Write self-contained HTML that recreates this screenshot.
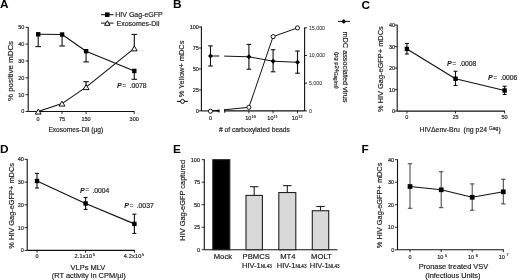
<!DOCTYPE html>
<html><head><meta charset="utf-8"><style>
html,body{margin:0;padding:0;background:#fff;width:520px;height:280px;overflow:hidden;}
svg{display:block;filter:blur(0.3px);}
text{font-family:"Liberation Sans", sans-serif;stroke:#222;stroke-width:0.18px;}
</style></head><body>
<svg width="520" height="280" viewBox="0 0 520 280">
<rect width="520" height="280" fill="#fff"/>
<text x="0.00" y="8.00" font-size="11.8" font-weight="bold" fill="#000" style="stroke-width:0">A</text>
<text x="173.00" y="8.00" font-size="11.8" font-weight="bold" fill="#000" style="stroke-width:0">B</text>
<text x="361.50" y="8.90" font-size="11.8" font-weight="bold" fill="#000" style="stroke-width:0">C</text>
<text x="0.10" y="152.90" font-size="11.8" font-weight="bold" fill="#000" style="stroke-width:0">D</text>
<text x="172.90" y="153.00" font-size="11.8" font-weight="bold" fill="#000" style="stroke-width:0">E</text>
<text x="361.50" y="153.00" font-size="11.8" font-weight="bold" fill="#000" style="stroke-width:0">F</text>
<line x1="28.20" y1="26.90" x2="28.20" y2="111.50" stroke="#111" stroke-width="1.1"/>
<line x1="28.20" y1="111.50" x2="134.40" y2="111.50" stroke="#111" stroke-width="1.1"/>
<line x1="25.60" y1="111.50" x2="28.20" y2="111.50" stroke="#111" stroke-width="0.9"/>
<text x="24.40" y="113.48" font-size="5.5" text-anchor="end" fill="#222">0</text>
<line x1="25.60" y1="94.66" x2="28.20" y2="94.66" stroke="#111" stroke-width="0.9"/>
<text x="24.40" y="96.64" font-size="5.5" text-anchor="end" fill="#222">10</text>
<line x1="25.60" y1="77.82" x2="28.20" y2="77.82" stroke="#111" stroke-width="0.9"/>
<text x="24.40" y="79.80" font-size="5.5" text-anchor="end" fill="#222">20</text>
<line x1="25.60" y1="60.98" x2="28.20" y2="60.98" stroke="#111" stroke-width="0.9"/>
<text x="24.40" y="62.96" font-size="5.5" text-anchor="end" fill="#222">30</text>
<line x1="25.60" y1="44.14" x2="28.20" y2="44.14" stroke="#111" stroke-width="0.9"/>
<text x="24.40" y="46.12" font-size="5.5" text-anchor="end" fill="#222">40</text>
<line x1="25.60" y1="27.30" x2="28.20" y2="27.30" stroke="#111" stroke-width="0.9"/>
<text x="24.40" y="29.28" font-size="5.5" text-anchor="end" fill="#222">50</text>
<line x1="38.10" y1="111.50" x2="38.10" y2="113.90" stroke="#111" stroke-width="0.9"/>
<line x1="62.00" y1="111.50" x2="62.00" y2="113.90" stroke="#111" stroke-width="0.9"/>
<line x1="86.10" y1="111.50" x2="86.10" y2="113.90" stroke="#111" stroke-width="0.9"/>
<line x1="134.20" y1="111.50" x2="134.20" y2="113.90" stroke="#111" stroke-width="0.9"/>
<text x="38.10" y="120.78" font-size="5.5" text-anchor="middle" fill="#222">0</text>
<text x="62.00" y="120.78" font-size="5.5" text-anchor="middle" fill="#222">75</text>
<text x="86.10" y="120.78" font-size="5.5" text-anchor="middle" fill="#222">150</text>
<text x="134.20" y="120.78" font-size="5.5" text-anchor="middle" fill="#222">300</text>
<text x="75.80" y="131.70" font-size="6.6" text-anchor="middle" fill="#222">Exosomes-DiI (µg)</text>
<text x="13.40" y="71.00" font-size="7.9" text-anchor="middle" transform="rotate(-90 13.40 71.00)" fill="#222">% positive mDCs</text>
<polyline points="38.20,34.30 62.10,34.50 86.10,51.20 134.30,70.90" fill="none" stroke="#111" stroke-width="1.1" stroke-linejoin="round"/>
<polyline points="38.20,111.60 62.00,103.60 86.10,87.10 134.30,48.40" fill="none" stroke="#111" stroke-width="1.1" stroke-linejoin="round"/>
<line x1="38.20" y1="34.30" x2="38.20" y2="46.60" stroke="#111" stroke-width="1.1"/>
<line x1="35.40" y1="46.60" x2="41.00" y2="46.60" stroke="#111" stroke-width="1.1"/>
<line x1="62.10" y1="34.50" x2="62.10" y2="46.00" stroke="#111" stroke-width="1.1"/>
<line x1="59.30" y1="46.00" x2="64.90" y2="46.00" stroke="#111" stroke-width="1.1"/>
<line x1="86.10" y1="51.20" x2="86.10" y2="61.90" stroke="#111" stroke-width="1.1"/>
<line x1="83.30" y1="61.90" x2="88.90" y2="61.90" stroke="#111" stroke-width="1.1"/>
<line x1="134.30" y1="70.90" x2="134.30" y2="79.30" stroke="#111" stroke-width="1.1"/>
<line x1="131.50" y1="79.30" x2="137.10" y2="79.30" stroke="#111" stroke-width="1.1"/>
<line x1="86.10" y1="87.10" x2="86.10" y2="81.70" stroke="#111" stroke-width="1.1"/>
<line x1="83.30" y1="81.70" x2="88.90" y2="81.70" stroke="#111" stroke-width="1.1"/>
<line x1="134.30" y1="48.40" x2="134.30" y2="34.40" stroke="#111" stroke-width="1.1"/>
<line x1="131.50" y1="34.40" x2="137.10" y2="34.40" stroke="#111" stroke-width="1.1"/>
<rect x="36.00" y="32.10" width="4.4" height="4.4" fill="#000"/>
<rect x="59.90" y="32.30" width="4.4" height="4.4" fill="#000"/>
<rect x="83.90" y="49.00" width="4.4" height="4.4" fill="#000"/>
<rect x="132.10" y="68.70" width="4.4" height="4.4" fill="#000"/>
<polygon points="38.20,109.11 41.10,114.09 35.30,114.09" fill="#fff" stroke="#111" stroke-width="1.0"/>
<polygon points="62.00,101.11 64.90,106.09 59.10,106.09" fill="#fff" stroke="#111" stroke-width="1.0"/>
<polygon points="86.10,84.61 89.00,89.59 83.20,89.59" fill="#fff" stroke="#111" stroke-width="1.0"/>
<polygon points="134.30,45.91 137.20,50.89 131.40,50.89" fill="#fff" stroke="#111" stroke-width="1.0"/>
<line x1="101.00" y1="14.70" x2="113.60" y2="14.70" stroke="#111" stroke-width="1.0"/>
<rect x="105.05" y="12.45" width="4.5" height="4.5" fill="#000"/>
<text x="115.30" y="17.30" font-size="7.0" fill="#222">HIV Gag-eGFP</text>
<line x1="101.00" y1="23.10" x2="113.60" y2="23.10" stroke="#111" stroke-width="1.0"/>
<polygon points="107.30,20.68 110.00,25.32 104.60,25.32" fill="#fff" stroke="#111" stroke-width="1.0"/>
<text x="116.60" y="25.60" font-size="6.95" fill="#222">Exosomes-DiI</text>
<text x="117.10" y="87.90" font-size="7.0" font-weight="bold" font-style="italic" fill="#222" style="stroke-width:0.05px">P</text>
<text x="122.60" y="87.80" font-size="6.3" fill="#222">=</text>
<text x="129.50" y="87.90" font-size="6.8" fill="#222">.0078</text>
<line x1="201.40" y1="26.60" x2="201.40" y2="110.90" stroke="#111" stroke-width="1.1"/>
<line x1="198.80" y1="110.90" x2="201.40" y2="110.90" stroke="#111" stroke-width="0.9"/>
<text x="198.90" y="112.88" font-size="5.5" text-anchor="end" fill="#222">0</text>
<line x1="198.80" y1="89.93" x2="201.40" y2="89.93" stroke="#111" stroke-width="0.9"/>
<text x="198.90" y="91.91" font-size="5.5" text-anchor="end" fill="#222">25</text>
<line x1="198.80" y1="68.95" x2="201.40" y2="68.95" stroke="#111" stroke-width="0.9"/>
<text x="198.90" y="70.93" font-size="5.5" text-anchor="end" fill="#222">50</text>
<line x1="198.80" y1="47.98" x2="201.40" y2="47.98" stroke="#111" stroke-width="0.9"/>
<text x="198.90" y="49.96" font-size="5.5" text-anchor="end" fill="#222">75</text>
<line x1="198.80" y1="27.00" x2="201.40" y2="27.00" stroke="#111" stroke-width="0.9"/>
<text x="198.90" y="28.98" font-size="5.5" text-anchor="end" fill="#222">100</text>
<line x1="201.40" y1="110.90" x2="219.30" y2="110.90" stroke="#111" stroke-width="1.1"/>
<line x1="224.20" y1="110.90" x2="304.60" y2="110.90" stroke="#111" stroke-width="1.1"/>
<line x1="304.60" y1="27.40" x2="304.60" y2="110.90" stroke="#111" stroke-width="1.1"/>
<line x1="304.60" y1="110.90" x2="307.00" y2="110.90" stroke="#111" stroke-width="0.9"/>
<text x="308.90" y="112.77" font-size="5.2" fill="#222" style="stroke-width:0.02px" letter-spacing="0.05">0</text>
<line x1="304.60" y1="83.20" x2="307.00" y2="83.20" stroke="#111" stroke-width="0.9"/>
<text x="308.90" y="85.07" font-size="5.2" fill="#222" style="stroke-width:0.02px" letter-spacing="0.05">5,000</text>
<line x1="304.60" y1="55.50" x2="307.00" y2="55.50" stroke="#111" stroke-width="0.9"/>
<text x="308.90" y="57.37" font-size="5.2" fill="#222" style="stroke-width:0.02px" letter-spacing="0.05">10,000</text>
<line x1="304.60" y1="27.80" x2="307.00" y2="27.80" stroke="#111" stroke-width="0.9"/>
<text x="308.90" y="29.67" font-size="5.2" fill="#222" style="stroke-width:0.02px" letter-spacing="0.05">15,000</text>
<line x1="210.50" y1="110.90" x2="210.50" y2="113.30" stroke="#111" stroke-width="0.9"/>
<line x1="248.90" y1="110.90" x2="248.90" y2="113.30" stroke="#111" stroke-width="0.9"/>
<line x1="273.10" y1="110.90" x2="273.10" y2="113.30" stroke="#111" stroke-width="0.9"/>
<line x1="297.50" y1="110.90" x2="297.50" y2="113.30" stroke="#111" stroke-width="0.9"/>
<text x="210.50" y="120.38" font-size="5.5" text-anchor="middle" fill="#222">0</text>
<text x="248.30" y="120.38" font-size="5.5" text-anchor="middle" fill="#222">10</text>
<text x="251.76" y="118.08" font-size="3.7" fill="#222">10</text>
<text x="270.40" y="120.38" font-size="5.5" text-anchor="middle" fill="#222">10</text>
<text x="273.86" y="118.08" font-size="3.7" fill="#222">11</text>
<text x="294.90" y="120.38" font-size="5.5" text-anchor="middle" fill="#222">10</text>
<text x="298.36" y="118.08" font-size="3.7" fill="#222">12</text>
<text x="254.40" y="132.00" font-size="6.7" text-anchor="middle" fill="#222"># of carboxylated beads</text>
<polyline points="210.50,56.00 219.30,56.00" fill="none" stroke="#111" stroke-width="1.0" stroke-linejoin="round"/>
<polyline points="224.20,56.10 248.90,56.80 273.10,61.20 297.50,62.30" fill="none" stroke="#111" stroke-width="1.0" stroke-linejoin="round"/>
<line x1="210.50" y1="45.90" x2="210.50" y2="66.00" stroke="#111" stroke-width="1.1"/>
<line x1="208.20" y1="45.90" x2="212.80" y2="45.90" stroke="#111" stroke-width="1.1"/>
<line x1="208.20" y1="66.00" x2="212.80" y2="66.00" stroke="#111" stroke-width="1.1"/>
<polygon points="210.50,53.50 213.00,56.00 210.50,58.50 208.00,56.00" fill="#000"/>
<line x1="248.90" y1="44.40" x2="248.90" y2="69.20" stroke="#111" stroke-width="1.1"/>
<line x1="246.60" y1="44.40" x2="251.20" y2="44.40" stroke="#111" stroke-width="1.1"/>
<line x1="246.60" y1="69.20" x2="251.20" y2="69.20" stroke="#111" stroke-width="1.1"/>
<polygon points="248.90,54.30 251.40,56.80 248.90,59.30 246.40,56.80" fill="#000"/>
<line x1="273.10" y1="49.70" x2="273.10" y2="71.80" stroke="#111" stroke-width="1.1"/>
<line x1="270.80" y1="49.70" x2="275.40" y2="49.70" stroke="#111" stroke-width="1.1"/>
<line x1="270.80" y1="71.80" x2="275.40" y2="71.80" stroke="#111" stroke-width="1.1"/>
<polygon points="273.10,58.70 275.60,61.20 273.10,63.70 270.60,61.20" fill="#000"/>
<line x1="297.50" y1="51.00" x2="297.50" y2="73.20" stroke="#111" stroke-width="1.1"/>
<line x1="295.20" y1="51.00" x2="299.80" y2="51.00" stroke="#111" stroke-width="1.1"/>
<line x1="295.20" y1="73.20" x2="299.80" y2="73.20" stroke="#111" stroke-width="1.1"/>
<polygon points="297.50,59.80 300.00,62.30 297.50,64.80 295.00,62.30" fill="#000"/>
<polyline points="210.50,110.70 219.30,110.70" fill="none" stroke="#111" stroke-width="1.2" stroke-linejoin="round"/>
<line x1="216.50" y1="110.70" x2="219.30" y2="110.70" stroke="#111" stroke-width="1.8"/>
<line x1="218.90" y1="109.60" x2="218.90" y2="112.60" stroke="#111" stroke-width="1.0"/>
<line x1="224.70" y1="109.20" x2="224.70" y2="112.80" stroke="#111" stroke-width="1.0"/>
<polyline points="224.20,109.80 248.90,107.30 273.10,36.60 297.50,27.90" fill="none" stroke="#111" stroke-width="1.0" stroke-linejoin="round"/>
<circle cx="210.50" cy="111.20" r="2.05" fill="#fff" stroke="#111" stroke-width="1.0"/>
<circle cx="248.90" cy="107.30" r="2.05" fill="#fff" stroke="#111" stroke-width="1.0"/>
<circle cx="273.10" cy="36.60" r="2.05" fill="#fff" stroke="#111" stroke-width="1.0"/>
<circle cx="297.50" cy="27.90" r="2.05" fill="#fff" stroke="#111" stroke-width="1.0"/>
<text x="184.30" y="68.90" font-size="7.4" text-anchor="middle" transform="rotate(-90 184.30 68.90)" fill="#222">% Yellow+ mDCs</text>
<line x1="176.90" y1="101.40" x2="187.90" y2="101.40" stroke="#111" stroke-width="1.1"/>
<circle cx="182.50" cy="101.40" r="2.0" fill="#fff" stroke="#111" stroke-width="1.0"/>
<text x="342.50" y="67.00" font-size="7.3" text-anchor="middle" transform="rotate(90 342.50 67.00)" fill="#222">mDC associated virus</text>
<text x="335.40" y="52.00" font-size="5.9" transform="rotate(90 335.40 52.00)" fill="#222">(pg p24<tspan font-size="4.6" dy="1.6">Gag/ml</tspan><tspan dy="-1.6">)</tspan></text>
<line x1="337.90" y1="21.40" x2="350.00" y2="21.40" stroke="#111" stroke-width="1.0"/>
<polygon points="343.80,19.00 346.20,21.40 343.80,23.80 341.40,21.40" fill="#000"/>
<line x1="397.20" y1="24.70" x2="397.20" y2="111.10" stroke="#111" stroke-width="1.1"/>
<line x1="397.20" y1="111.10" x2="504.90" y2="111.10" stroke="#111" stroke-width="1.1"/>
<line x1="394.60" y1="111.10" x2="397.20" y2="111.10" stroke="#111" stroke-width="0.9"/>
<text x="395.00" y="113.08" font-size="5.5" text-anchor="end" fill="#222">0</text>
<line x1="394.60" y1="89.60" x2="397.20" y2="89.60" stroke="#111" stroke-width="0.9"/>
<text x="395.00" y="91.58" font-size="5.5" text-anchor="end" fill="#222">10</text>
<line x1="394.60" y1="68.10" x2="397.20" y2="68.10" stroke="#111" stroke-width="0.9"/>
<text x="395.00" y="70.08" font-size="5.5" text-anchor="end" fill="#222">20</text>
<line x1="394.60" y1="46.60" x2="397.20" y2="46.60" stroke="#111" stroke-width="0.9"/>
<text x="395.00" y="48.58" font-size="5.5" text-anchor="end" fill="#222">30</text>
<line x1="394.60" y1="25.10" x2="397.20" y2="25.10" stroke="#111" stroke-width="0.9"/>
<text x="395.00" y="27.08" font-size="5.5" text-anchor="end" fill="#222">40</text>
<line x1="406.90" y1="111.10" x2="406.90" y2="113.50" stroke="#111" stroke-width="0.9"/>
<line x1="455.50" y1="111.10" x2="455.50" y2="113.50" stroke="#111" stroke-width="0.9"/>
<line x1="504.60" y1="111.10" x2="504.60" y2="113.50" stroke="#111" stroke-width="0.9"/>
<text x="406.90" y="119.48" font-size="5.5" text-anchor="middle" fill="#222">0</text>
<text x="455.50" y="119.48" font-size="5.5" text-anchor="middle" fill="#222">25</text>
<text x="504.60" y="119.48" font-size="5.5" text-anchor="middle" fill="#222">50</text>
<text x="382.80" y="69.10" font-size="7.4" text-anchor="middle" transform="rotate(-90 382.80 69.10)" fill="#222">% HIV Gag-eGFP+ mDCs</text>
<text x="419.40" y="132.40" font-size="6.95" fill="#222">HIVΔenv-Bru</text>
<text x="463.60" y="132.40" font-size="6.95" fill="#222">(ng p24</text>
<text x="488.90" y="130.00" font-size="4.9" fill="#222">Gag</text>
<text x="498.60" y="132.40" font-size="6.95" fill="#222">)</text>
<polyline points="406.90,48.90 455.50,78.75 504.60,90.50" fill="none" stroke="#111" stroke-width="1.15" stroke-linejoin="round"/>
<line x1="406.90" y1="43.50" x2="406.90" y2="54.00" stroke="#111" stroke-width="1.1"/>
<line x1="404.90" y1="43.50" x2="408.90" y2="43.50" stroke="#111" stroke-width="1.1"/>
<line x1="404.90" y1="54.00" x2="408.90" y2="54.00" stroke="#111" stroke-width="1.1"/>
<rect x="404.70" y="46.70" width="4.4" height="4.4" fill="#000"/>
<line x1="455.50" y1="71.25" x2="455.50" y2="85.50" stroke="#111" stroke-width="1.1"/>
<line x1="453.50" y1="71.25" x2="457.50" y2="71.25" stroke="#111" stroke-width="1.1"/>
<line x1="453.50" y1="85.50" x2="457.50" y2="85.50" stroke="#111" stroke-width="1.1"/>
<rect x="453.30" y="76.55" width="4.4" height="4.4" fill="#000"/>
<line x1="504.60" y1="86.25" x2="504.60" y2="94.50" stroke="#111" stroke-width="1.1"/>
<line x1="502.60" y1="86.25" x2="506.60" y2="86.25" stroke="#111" stroke-width="1.1"/>
<line x1="502.60" y1="94.50" x2="506.60" y2="94.50" stroke="#111" stroke-width="1.1"/>
<rect x="502.40" y="88.30" width="4.4" height="4.4" fill="#000"/>
<text x="447.00" y="66.20" font-size="7.0" font-weight="bold" font-style="italic" fill="#222" style="stroke-width:0.05px">P</text>
<text x="452.50" y="66.10" font-size="6.3" fill="#222">=</text>
<text x="459.40" y="66.20" font-size="6.8" fill="#222">.0008</text>
<text x="488.00" y="80.00" font-size="7.0" font-weight="bold" font-style="italic" fill="#222" style="stroke-width:0.05px">P</text>
<text x="493.50" y="79.90" font-size="6.3" fill="#222">=</text>
<text x="500.40" y="80.00" font-size="6.8" fill="#222">.0006</text>
<line x1="27.20" y1="158.90" x2="27.20" y2="250.40" stroke="#111" stroke-width="1.1"/>
<line x1="27.20" y1="250.40" x2="134.80" y2="250.40" stroke="#111" stroke-width="1.1"/>
<line x1="24.60" y1="250.40" x2="27.20" y2="250.40" stroke="#111" stroke-width="0.9"/>
<text x="23.80" y="252.38" font-size="5.5" text-anchor="end" fill="#222">0</text>
<line x1="24.60" y1="227.62" x2="27.20" y2="227.62" stroke="#111" stroke-width="0.9"/>
<text x="23.80" y="229.60" font-size="5.5" text-anchor="end" fill="#222">10</text>
<line x1="24.60" y1="204.85" x2="27.20" y2="204.85" stroke="#111" stroke-width="0.9"/>
<text x="23.80" y="206.83" font-size="5.5" text-anchor="end" fill="#222">20</text>
<line x1="24.60" y1="182.08" x2="27.20" y2="182.08" stroke="#111" stroke-width="0.9"/>
<text x="23.80" y="184.06" font-size="5.5" text-anchor="end" fill="#222">30</text>
<line x1="24.60" y1="159.30" x2="27.20" y2="159.30" stroke="#111" stroke-width="0.9"/>
<text x="23.80" y="161.28" font-size="5.5" text-anchor="end" fill="#222">40</text>
<line x1="37.00" y1="250.40" x2="37.00" y2="252.80" stroke="#111" stroke-width="0.9"/>
<line x1="85.60" y1="250.40" x2="85.60" y2="252.80" stroke="#111" stroke-width="0.9"/>
<line x1="134.40" y1="250.40" x2="134.40" y2="252.80" stroke="#111" stroke-width="0.9"/>
<text x="37.00" y="257.78" font-size="5.5" text-anchor="middle" fill="#222">0</text>
<text x="74.60" y="258.48" font-size="5.5" fill="#222" letter-spacing="0.2">2.1x10</text>
<text x="92.90" y="256.28" font-size="3.6" fill="#222">5</text>
<text x="123.80" y="258.48" font-size="5.5" fill="#222" letter-spacing="0.2">4.2x10</text>
<text x="142.10" y="256.28" font-size="3.6" fill="#222">5</text>
<text x="13.80" y="205.90" font-size="7.4" text-anchor="middle" transform="rotate(-90 13.80 205.90)" fill="#222">% HIV Gag-eGFP+ mDCs</text>
<text x="87.90" y="270.10" font-size="7.5" text-anchor="middle" fill="#222">VLPs MLV</text>
<text x="88.70" y="278.00" font-size="7.45" text-anchor="middle" fill="#222">(RT activity in CPM/µl)</text>
<polyline points="37.00,181.00 85.60,203.50 134.40,223.90" fill="none" stroke="#111" stroke-width="1.15" stroke-linejoin="round"/>
<line x1="37.00" y1="173.40" x2="37.00" y2="188.00" stroke="#111" stroke-width="1.1"/>
<line x1="35.00" y1="173.40" x2="39.00" y2="173.40" stroke="#111" stroke-width="1.1"/>
<line x1="35.00" y1="188.00" x2="39.00" y2="188.00" stroke="#111" stroke-width="1.1"/>
<rect x="34.80" y="178.80" width="4.4" height="4.4" fill="#000"/>
<line x1="85.60" y1="197.50" x2="85.60" y2="209.40" stroke="#111" stroke-width="1.1"/>
<line x1="83.60" y1="197.50" x2="87.60" y2="197.50" stroke="#111" stroke-width="1.1"/>
<line x1="83.60" y1="209.40" x2="87.60" y2="209.40" stroke="#111" stroke-width="1.1"/>
<rect x="83.40" y="201.30" width="4.4" height="4.4" fill="#000"/>
<line x1="134.40" y1="214.20" x2="134.40" y2="233.40" stroke="#111" stroke-width="1.1"/>
<line x1="132.40" y1="214.20" x2="136.40" y2="214.20" stroke="#111" stroke-width="1.1"/>
<line x1="132.40" y1="233.40" x2="136.40" y2="233.40" stroke="#111" stroke-width="1.1"/>
<rect x="132.20" y="221.70" width="4.4" height="4.4" fill="#000"/>
<text x="80.00" y="192.50" font-size="7.0" font-weight="bold" font-style="italic" fill="#222" style="stroke-width:0.05px">P</text>
<text x="85.50" y="192.40" font-size="6.3" fill="#222">=</text>
<text x="92.40" y="192.50" font-size="6.8" fill="#222">.0004</text>
<text x="124.30" y="207.60" font-size="7.0" font-weight="bold" font-style="italic" fill="#222" style="stroke-width:0.05px">P</text>
<text x="129.80" y="207.50" font-size="6.3" fill="#222">=</text>
<text x="136.70" y="207.60" font-size="6.8" fill="#222">.0037</text>
<line x1="204.30" y1="159.30" x2="204.30" y2="249.70" stroke="#111" stroke-width="1.1"/>
<line x1="204.30" y1="249.70" x2="337.50" y2="249.70" stroke="#111" stroke-width="1.1"/>
<line x1="201.70" y1="249.70" x2="204.30" y2="249.70" stroke="#111" stroke-width="0.9"/>
<text x="200.00" y="251.68" font-size="5.5" text-anchor="end" fill="#222">0</text>
<line x1="201.70" y1="227.20" x2="204.30" y2="227.20" stroke="#111" stroke-width="0.9"/>
<text x="200.00" y="229.18" font-size="5.5" text-anchor="end" fill="#222">25</text>
<line x1="201.70" y1="204.70" x2="204.30" y2="204.70" stroke="#111" stroke-width="0.9"/>
<text x="200.00" y="206.68" font-size="5.5" text-anchor="end" fill="#222">50</text>
<line x1="201.70" y1="182.20" x2="204.30" y2="182.20" stroke="#111" stroke-width="0.9"/>
<text x="200.00" y="184.18" font-size="5.5" text-anchor="end" fill="#222">75</text>
<line x1="201.70" y1="159.70" x2="204.30" y2="159.70" stroke="#111" stroke-width="0.9"/>
<text x="200.00" y="161.68" font-size="5.5" text-anchor="end" fill="#222">100</text>
<rect x="212.80" y="159.70" width="17.00" height="90.00" fill="#000" stroke="#222" stroke-width="1.1"/>
<line x1="254.20" y1="186.70" x2="254.20" y2="195.43" stroke="#222" stroke-width="1.1"/>
<line x1="250.00" y1="186.70" x2="258.40" y2="186.70" stroke="#222" stroke-width="1.1"/>
<rect x="246.00" y="195.43" width="16.40" height="54.27" fill="#d9d9d9" stroke="#222" stroke-width="1.1"/>
<line x1="287.30" y1="185.62" x2="287.30" y2="192.55" stroke="#222" stroke-width="1.1"/>
<line x1="283.10" y1="185.62" x2="291.50" y2="185.62" stroke="#222" stroke-width="1.1"/>
<rect x="278.80" y="192.55" width="17.00" height="57.15" fill="#d9d9d9" stroke="#222" stroke-width="1.1"/>
<line x1="320.50" y1="206.50" x2="320.50" y2="210.73" stroke="#222" stroke-width="1.1"/>
<line x1="316.30" y1="206.50" x2="324.70" y2="206.50" stroke="#222" stroke-width="1.1"/>
<rect x="312.30" y="210.73" width="16.40" height="38.97" fill="#d9d9d9" stroke="#222" stroke-width="1.1"/>
<text x="185.00" y="200.30" font-size="7.4" text-anchor="middle" transform="rotate(-90 185.00 200.30)" fill="#222">HIV Gag-eGFP captured</text>
<text x="222.90" y="258.70" font-size="7.7" text-anchor="middle" fill="#222">Mock</text>
<text x="256.20" y="258.70" font-size="7.7" text-anchor="middle" fill="#222">PBMCS</text>
<text x="287.90" y="258.70" font-size="7.7" text-anchor="middle" fill="#222">MT4</text>
<text x="321.50" y="258.70" font-size="7.7" text-anchor="middle" fill="#222">MOLT</text>
<text x="256.90" y="268.00" font-size="7.5" text-anchor="middle" fill="#222">HIV-1<tspan font-size="4.6">NL43</tspan></text>
<text x="291.60" y="268.00" font-size="7.5" text-anchor="middle" fill="#222">HIV-1<tspan font-size="4.6">NL43</tspan></text>
<text x="324.70" y="268.00" font-size="7.5" text-anchor="middle" fill="#222">HIV-1<tspan font-size="4.6">NL43</tspan></text>
<line x1="397.50" y1="159.30" x2="397.50" y2="249.80" stroke="#111" stroke-width="1.1"/>
<line x1="397.50" y1="249.80" x2="503.90" y2="249.80" stroke="#111" stroke-width="1.1"/>
<line x1="394.90" y1="249.80" x2="397.50" y2="249.80" stroke="#111" stroke-width="0.9"/>
<text x="394.20" y="251.78" font-size="5.5" text-anchor="end" fill="#222">0</text>
<line x1="394.90" y1="227.28" x2="397.50" y2="227.28" stroke="#111" stroke-width="0.9"/>
<text x="394.20" y="229.25" font-size="5.5" text-anchor="end" fill="#222">10</text>
<line x1="394.90" y1="204.75" x2="397.50" y2="204.75" stroke="#111" stroke-width="0.9"/>
<text x="394.20" y="206.73" font-size="5.5" text-anchor="end" fill="#222">20</text>
<line x1="394.90" y1="182.23" x2="397.50" y2="182.23" stroke="#111" stroke-width="0.9"/>
<text x="394.20" y="184.21" font-size="5.5" text-anchor="end" fill="#222">30</text>
<line x1="394.90" y1="159.70" x2="397.50" y2="159.70" stroke="#111" stroke-width="0.9"/>
<text x="394.20" y="161.68" font-size="5.5" text-anchor="end" fill="#222">40</text>
<line x1="410.00" y1="249.80" x2="410.00" y2="252.20" stroke="#111" stroke-width="0.9"/>
<line x1="441.20" y1="249.80" x2="441.20" y2="252.20" stroke="#111" stroke-width="0.9"/>
<line x1="472.20" y1="249.80" x2="472.20" y2="252.20" stroke="#111" stroke-width="0.9"/>
<line x1="503.30" y1="249.80" x2="503.30" y2="252.20" stroke="#111" stroke-width="0.9"/>
<text x="410.00" y="259.48" font-size="5.5" text-anchor="middle" fill="#222">0</text>
<text x="440.30" y="259.48" font-size="5.5" text-anchor="middle" fill="#222">10</text>
<text x="444.96" y="257.48" font-size="3.7" fill="#222">5</text>
<text x="471.10" y="259.48" font-size="5.5" text-anchor="middle" fill="#222">10</text>
<text x="475.76" y="257.48" font-size="3.7" fill="#222">6</text>
<text x="501.80" y="259.48" font-size="5.5" text-anchor="middle" fill="#222">10</text>
<text x="506.46" y="256.48" font-size="3.7" fill="#222">7</text>
<text x="381.90" y="205.40" font-size="7.4" text-anchor="middle" transform="rotate(-90 381.90 205.40)" fill="#222">% HIV Gag-eGFP+ mDCs</text>
<text x="453.40" y="269.10" font-size="7.4" text-anchor="middle" fill="#222">Pronase treated VSV</text>
<text x="452.80" y="277.60" font-size="7.35" text-anchor="middle" fill="#222">(Infectious Units)</text>
<polyline points="410.00,186.50 441.20,189.80 472.20,197.30 503.30,191.80" fill="none" stroke="#111" stroke-width="1.15" stroke-linejoin="round"/>
<line x1="410.00" y1="163.75" x2="410.00" y2="208.25" stroke="#333" stroke-width="0.95"/>
<line x1="407.80" y1="163.75" x2="412.20" y2="163.75" stroke="#333" stroke-width="0.95"/>
<line x1="407.80" y1="208.25" x2="412.20" y2="208.25" stroke="#333" stroke-width="0.95"/>
<rect x="407.65" y="184.15" width="4.7" height="4.7" fill="#000"/>
<line x1="441.20" y1="171.75" x2="441.20" y2="207.70" stroke="#333" stroke-width="0.95"/>
<line x1="439.00" y1="171.75" x2="443.40" y2="171.75" stroke="#333" stroke-width="0.95"/>
<line x1="439.00" y1="207.70" x2="443.40" y2="207.70" stroke="#333" stroke-width="0.95"/>
<rect x="438.85" y="187.45" width="4.7" height="4.7" fill="#000"/>
<line x1="472.20" y1="183.90" x2="472.20" y2="210.20" stroke="#333" stroke-width="0.95"/>
<line x1="470.00" y1="183.90" x2="474.40" y2="183.90" stroke="#333" stroke-width="0.95"/>
<line x1="470.00" y1="210.20" x2="474.40" y2="210.20" stroke="#333" stroke-width="0.95"/>
<rect x="469.85" y="194.95" width="4.7" height="4.7" fill="#000"/>
<line x1="503.30" y1="179.25" x2="503.30" y2="203.90" stroke="#333" stroke-width="0.95"/>
<line x1="501.10" y1="179.25" x2="505.50" y2="179.25" stroke="#333" stroke-width="0.95"/>
<line x1="501.10" y1="203.90" x2="505.50" y2="203.90" stroke="#333" stroke-width="0.95"/>
<rect x="500.95" y="189.45" width="4.7" height="4.7" fill="#000"/>
</svg>
</body></html>
